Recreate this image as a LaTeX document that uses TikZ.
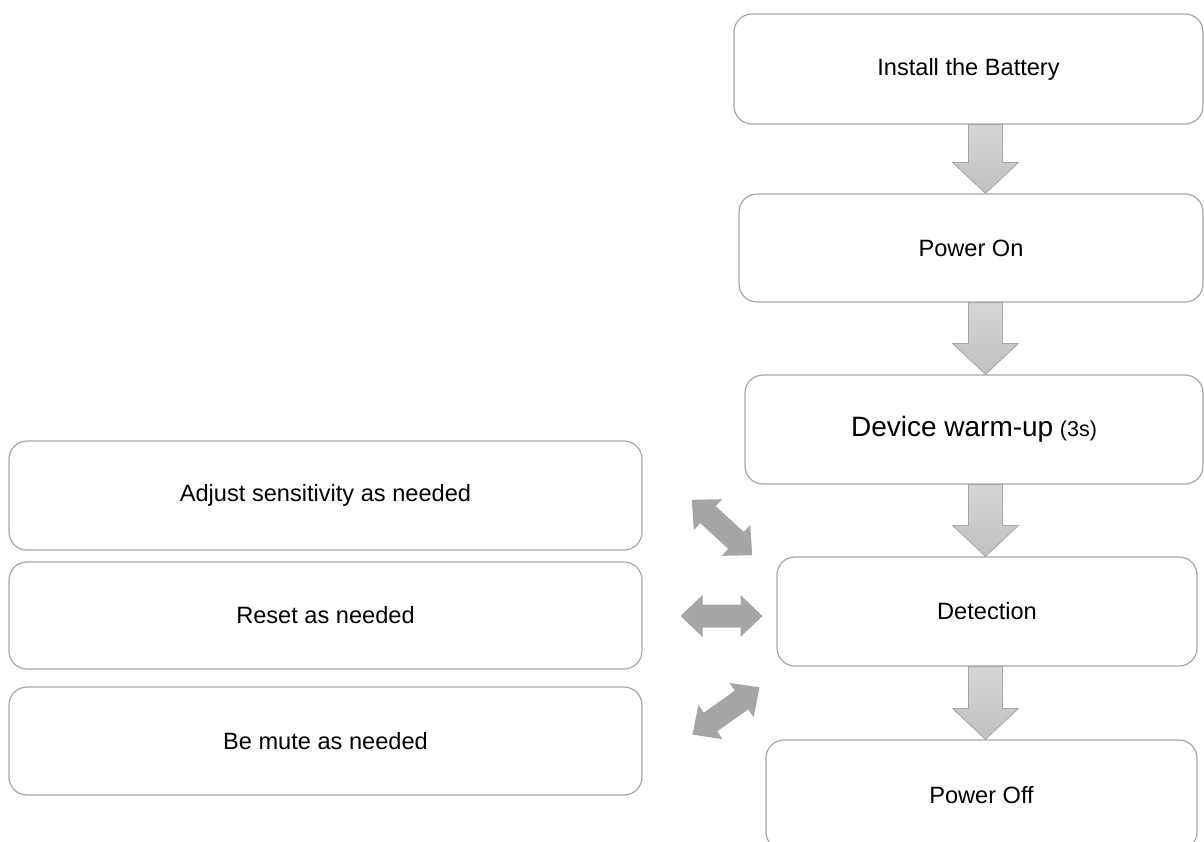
\documentclass[tikz,border=0pt]{standalone}
\usepackage{fontspec}
\setmainfont{Liberation Sans}
\usetikzlibrary{calc}
\definecolor{boxline}{HTML}{A6A6A6}
\definecolor{arrowfill}{HTML}{A5A5A5}
\definecolor{shadetop}{HTML}{D6D6D6}
\definecolor{shadebot}{HTML}{C0C0C0}
\tikzset{
  stepbox/.style={draw=boxline, line width=1.2pt, rounded corners=18pt, fill=white,
    font=\fontsize{23.6}{28}\selectfont, align=center, inner sep=0pt},
  fatdown/.style={draw=boxline, line width=0.8pt, top color=shadetop, bottom color=shadebot},
  dblarrow/.pic={\fill[arrowfill] (-41,0) -- (-19,21) -- (-19,11.5) -- (19,11.5) -- (19,21)
      -- (41,0) -- (19,-21) -- (19,-11.5) -- (-19,-11.5) -- (-19,-21) -- cycle;}
}
\newcommand\fatflow[2]{\path[fatdown] let \p1=(#1.south -| axis), \p2=(#2.north -| axis) in
  (\x1-17pt,\y1) -- (\x1+17pt,\y1) -- (\x1+17pt,\y2+31pt) -- (\x1+33pt,\y2+31pt) -- (\x1,\y2)
  -- (\x1-33pt,\y2+31pt) -- (\x1-17pt,\y2+31pt) -- cycle;}
\newcommand\twoway[2]{\path let \p1=(#1), \p2=(#2), \n1={atan2(\y2-\y1,\x2-\x1)} in
  ($(#1)!0.5!(#2)$) pic[rotate=\n1] {dblarrow};}
\begin{document}
\begin{tikzpicture}[x=1pt,y=-1pt]
\useasboundingbox (0,0) rectangle (1204,841);
\clip (0,0) rectangle (1204,841);
\coordinate (axis) at (985.5,0);
% right column
\node[stepbox, minimum width=469pt, minimum height=110pt] (bat) at (968.5,69) {Install the Battery};
\node[stepbox, minimum width=464pt, minimum height=108pt] (pon) at (971,248) {Power On};
\node[stepbox, minimum width=458pt, minimum height=109pt] (warm) at (974,429.5)
  {{\fontsize{28}{32}\selectfont Device warm-up} {\fontsize{21.5}{26}\selectfont (3s)}};
\node[stepbox, minimum width=420pt, minimum height=109pt] (det) at (987,611.5) {Detection};
\node[stepbox, minimum width=431pt, minimum height=110pt] (poff) at (981.5,795) {Power Off};
% left column
\node[stepbox, minimum width=633pt, minimum height=109pt] (adj) at (325.5,495.5) {Adjust sensitivity as needed};
\node[stepbox, minimum width=633pt, minimum height=107pt] (rst) at (325.5,615.5) {Reset as needed};
\node[stepbox, minimum width=633pt, minimum height=108pt] (mute) at (325.5,741) {Be mute as needed};
% flow arrows
\fatflow{bat}{pon}
\fatflow{pon}{warm}
\fatflow{warm}{det}
\fatflow{det}{poff}
% two-way arrows
\coordinate (d1a) at (692,500);
\coordinate (d1b) at (752,555);
\coordinate (d2a) at (681,616);
\coordinate (d2b) at (762,616);
\coordinate (d3a) at (692,735);
\coordinate (d3b) at (760,687);
\twoway{d1a}{d1b}
\twoway{d2a}{d2b}
\twoway{d3a}{d3b}
\end{tikzpicture}
\end{document}
